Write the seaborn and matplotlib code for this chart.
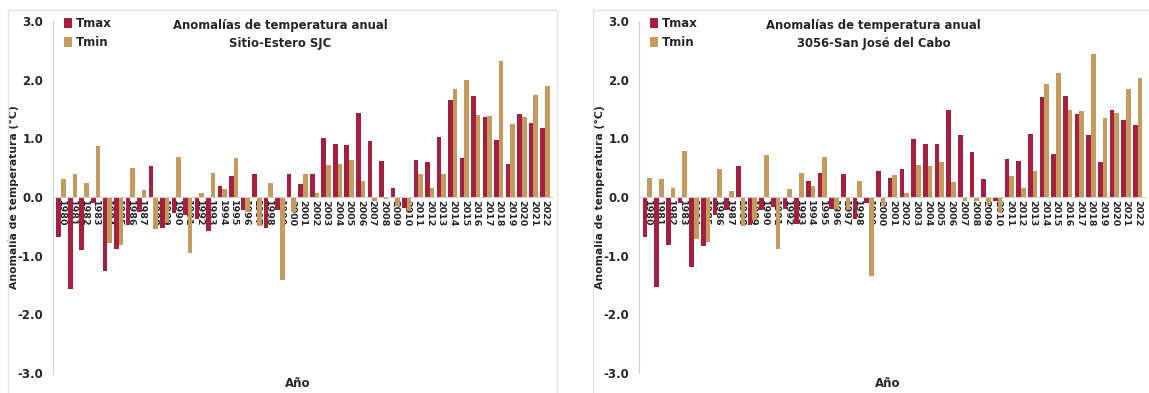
import pandas as pd
import matplotlib.pyplot as plt
import seaborn as sns
from matplotlib.patches import Rectangle

years = [str(y) for y in range(1980, 2023)]

# Sitio-Estero SJC
tmax_sjc = [-0.69, -1.56, -0.90, -0.10, -1.26, -0.89, -0.47, -0.25, 0.53, -0.53,
            -0.27, -0.30, -0.38, -0.58, 0.18, 0.35, -0.22, 0.40, -0.53, -0.22,
            0.40, 0.23, 0.40, 1.01, 0.91, 0.88, 1.43, 0.95, 0.61, 0.15,
            -0.18, 0.63, 0.60, 1.03, 1.65, 0.67, 1.72, 1.36, 0.97, 0.56,
            1.41, 1.26, 1.17]
tmin_sjc = [0.30, 0.39, 0.24, 0.87, -0.79, -0.81, 0.50, 0.12, -0.55, -0.44,
            0.68, -0.95, 0.07, 0.41, 0.14, 0.66, -0.25, -0.49, 0.24, -1.42,
            -0.25, 0.40, 0.06, 0.54, 0.56, 0.63, 0.28, -0.07, -0.04, -0.15,
            -0.24, 0.40, 0.15, 0.40, 1.84, 1.99, 1.40, 1.38, 2.31, 1.25,
            1.36, 1.74, 1.90]

# 3056-San José del Cabo
tmax_cabo = [-0.68, -1.53, -0.81, -0.10, -1.20, -0.84, -0.30, -0.22, 0.52, -0.48,
             -0.23, -0.17, -0.20, -0.46, 0.27, 0.41, -0.20, 0.39, -0.37, -0.10,
             0.44, 0.33, 0.48, 0.99, 0.91, 0.90, 1.48, 1.05, 0.76, 0.31,
             -0.07, 0.64, 0.61, 1.07, 1.71, 0.74, 1.73, 1.41, 1.05, 0.60,
             1.48, 1.31, 1.23]
tmin_cabo = [0.32, 0.31, 0.15, 0.79, -0.72, -0.77, 0.48, 0.10, -0.49, -0.40,
             0.71, -0.89, 0.14, 0.41, 0.19, 0.68, -0.20, -0.23, 0.27, -1.34,
             -0.15, 0.38, 0.07, 0.55, 0.52, 0.59, 0.25, -0.07, -0.06, -0.14,
             -0.25, 0.35, 0.15, 0.45, 1.93, 2.12, 1.49, 1.47, 2.44, 1.35,
             1.44, 1.84, 2.02]

yticks = [-3.0, -2.0, -1.0, 0.0, 1.0, 2.0, 3.0]
colores = {'Tmax': '#A3203F', 'Tmin': '#C49A5E'}

sns.set_style('white')
plt.rcParams['font.family'] = ['DejaVu Sans']
plt.rcParams['font.weight'] = 'bold'

W, H = 1149, 393
fig = plt.figure(figsize=(W / 100, H / 100), dpi=100)

paneles = [
    ('Sitio-Estero SJC', tmax_sjc, tmin_sjc, 53, 553, 8, 557, 0.454),
    ('3056-San José del Cabo', tmax_cabo, tmin_cabo, 639, 1146, 593, 1160, 0.463),
]

for nombre, tmax, tmin, x0, x1, bx0, bx1, tx in paneles:
    # marco gris del panel
    fig.add_artist(Rectangle((bx0 / W, -0.02), (bx1 - bx0) / W, (H - 10) / H + 0.02,
                             transform=fig.transFigure, fill=False,
                             edgecolor='#e3e3e3', lw=1))
    ax = fig.add_axes([x0 / W, 1 - 373 / H, (x1 - x0) / W, (373 - 21) / H])
    df = pd.DataFrame({'Año': years * 2,
                       'valor': tmax + tmin,
                       'serie': ['Tmax'] * len(years) + ['Tmin'] * len(years)})
    sns.barplot(data=df, x='Año', y='valor', hue='serie', palette=colores,
                width=0.8, saturation=1, ax=ax, edgecolor='none')
    ax.set_ylim(-3, 3)
    ax.set_xlim(-0.7, len(years) - 0.3)
    ax.set_yticks(yticks)
    ax.set_yticklabels([f'{v:.1f}' for v in yticks], fontsize=8.5, fontweight='bold')
    ax.tick_params(axis='y', length=4, color='#d0d0d0', width=1, pad=3)
    ax.tick_params(axis='x', length=0, pad=2, labelrotation=-90, labelsize=6.8)
    for s in ['top', 'right']:
        ax.spines[s].set_visible(False)
    ax.spines['left'].set_color('#d0d0d0')
    ax.spines['bottom'].set_color('#d0d0d0')
    ax.spines['bottom'].set_position(('data', 0))

    ax.set_xlabel('Año', fontsize=8.5, fontweight='bold')
    ax.xaxis.set_label_coords(0.49, -0.012)
    ax.set_ylabel('Anomalía de temperatura (°C)', fontsize=7.8, fontweight='bold')
    ax.yaxis.set_label_coords(-0.068, 0.5)

    ax.text(tx, 1.006, 'Anomalías de temperatura anual\n' + nombre,
            transform=ax.transAxes, ha='center', va='top',
            fontsize=8.4, fontweight='bold', linespacing=1.55)

    ax.legend(loc='upper left', bbox_to_anchor=(0.012, 1.025), frameon=False,
              handlelength=0.7, handleheight=0.9, handletextpad=0.3,
              labelspacing=0.55, borderaxespad=0,
              prop={'size': 8.5, 'weight': 'bold'}, title=None)

fig.savefig('out.png', dpi=100)
